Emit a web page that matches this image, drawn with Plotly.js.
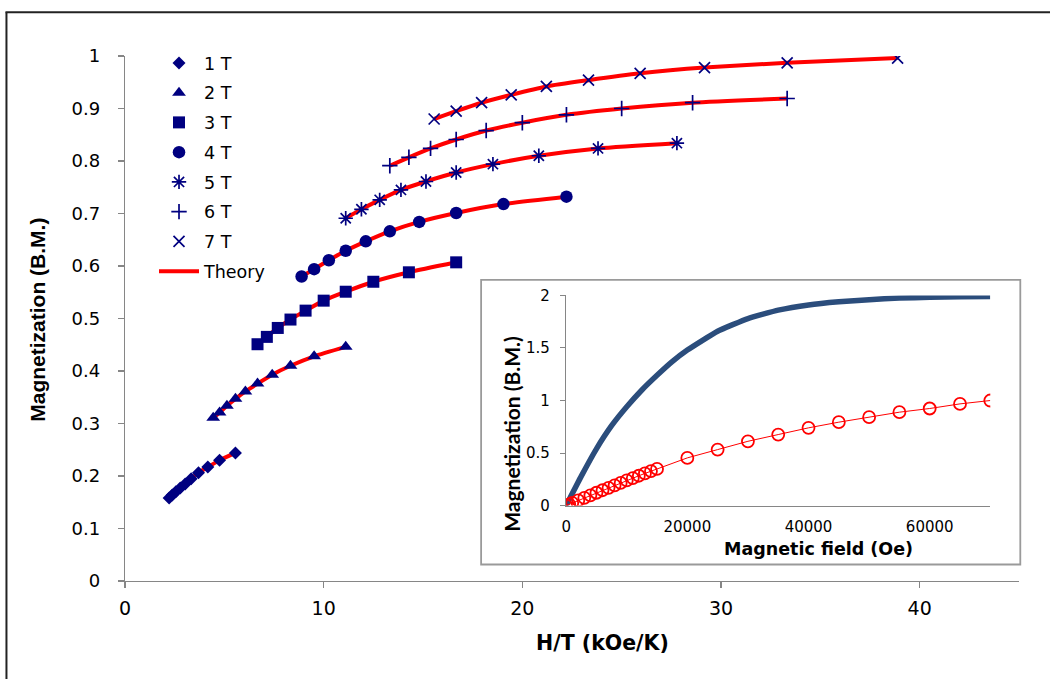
<!DOCTYPE html>
<html>
<head>
<meta charset="utf-8">
<script src="https://cdn.plot.ly/plotly-3.0.1.min.js"></script>
<style>
  html, body { margin: 0; padding: 0; background: #ffffff; }
  #chart { width: 1050px; height: 679px; }
</style>
</head>
<body>
<div id="chart"></div>
<script>
// Reduced magnetization M vs H/T, measured at fixed fields 1–7 T
const fieldLabels = ['1 T', '2 T', '3 T', '4 T', '5 T', '6 T', '7 T'];

const hT1 = [2.22, 2.38, 2.56, 2.78, 3.03, 3.33, 3.70, 4.17, 4.76, 5.56];
const m1  = [0.158, 0.164, 0.170, 0.177, 0.185, 0.195, 0.206, 0.217, 0.230, 0.244];

const hT2 = [4.44, 4.76, 5.13, 5.56, 6.06, 6.67, 7.41, 8.33, 9.52, 11.11];
const m2  = [0.311, 0.321, 0.334, 0.347, 0.361, 0.376, 0.393, 0.410, 0.428, 0.446];

const hT3 = [6.67, 7.14, 7.69, 8.33, 9.09, 10.0, 11.11, 12.5, 14.29, 16.67];
const m3  = [0.451, 0.465, 0.482, 0.498, 0.515, 0.534, 0.551, 0.570, 0.588, 0.607];

const hT4 = [8.89, 9.52, 10.26, 11.11, 12.12, 13.33, 14.81, 16.67, 19.05, 22.22];
const m4  = [0.580, 0.594, 0.611, 0.629, 0.647, 0.666, 0.684, 0.701, 0.718, 0.732];

const hT5 = [11.11, 11.90, 12.82, 13.89, 15.15, 16.67, 18.52, 20.83, 23.81, 27.78];
const m5  = [0.691, 0.708, 0.726, 0.745, 0.761, 0.778, 0.794, 0.810, 0.824, 0.834];

const hT6 = [13.33, 14.29, 15.38, 16.67, 18.18, 20.0, 22.22, 25.0, 28.57, 33.33];
const m6  = [0.791, 0.807, 0.824, 0.841, 0.858, 0.873, 0.888, 0.900, 0.911, 0.919];

const hT7 = [15.56, 16.67, 17.95, 19.44, 21.21, 23.33, 25.93, 29.17, 33.33, 38.89];
const m7  = [0.880, 0.895, 0.911, 0.926, 0.942, 0.954, 0.967, 0.978, 0.987, 0.996];

// Inset: M vs applied field (Oe)
const insetFieldCurve = [0, 2500, 5000, 7500, 10000, 12500, 15000, 17500, 20000, 25000,
                         30000, 35000, 40000, 45000, 50000, 55000, 60000, 65000, 70000];
const insetMCurve     = [0, 0.28, 0.54, 0.76, 0.94, 1.10, 1.24, 1.37, 1.48, 1.66,
                         1.78, 1.86, 1.91, 1.94, 1.96, 1.975, 1.983, 1.988, 1.99];

const insetFieldPts = [0, 500, 1000, 2000, 3000, 4000, 5000, 6000, 7000, 8000, 9000, 10000,
                       11000, 12000, 13000, 14000, 15000, 20000, 25000, 30000, 35000, 40000,
                       45000, 50000, 55000, 60000, 65000, 70000];
const insetMPts     = [0, 0.012, 0.025, 0.049, 0.074, 0.098, 0.122, 0.146, 0.169, 0.193, 0.216, 0.239,
                       0.262, 0.284, 0.306, 0.328, 0.349, 0.454, 0.533, 0.612, 0.676, 0.740,
                       0.794, 0.841, 0.889, 0.924, 0.968, 1.000];

// ---- layout geometry (pixels) ----
const W = 1050, H = 679;
const L = 125, R = 1018.7, T = 56, B = 581.5;
const px = x => (x - L) / (R - L);   // pixel x -> paper x
const py = y => (B - y) / (B - T);   // pixel y -> paper y

const WIDE = 'DejaVu Sans, Verdana, sans-serif';
const ARIAL = 'Liberation Sans, Arial, sans-serif';

const navy = '#000080';
const seriesX = [hT1, hT2, hT3, hT4, hT5, hT6, hT7];
const seriesY = [m1, m2, m3, m4, m5, m6, m7];
const symbols = ['diamond', 'triangle-up', 'square', 'circle',
                 'asterisk-open', 'cross-thin-open', 'x-thin-open'];
const sizes = [10, 12, 12, 12.5, 12, 11, 11];

// Theory curves: one red trace, series separated by gaps
const thX = [], thY = [];
seriesX.forEach((xs, i) => {
  thX.push(...xs, null);
  thY.push(...seriesY[i], null);
});

const traces = [{
  x: thX, y: thY, type: 'scatter', mode: 'lines', name: 'Theory',
  line: { color: '#ff0000', width: 4, shape: 'spline', smoothing: 0.6 },
  connectgaps: false, legendrank: 2000, legendgroup: 'th',
  xaxis: 'x', yaxis: 'y', hoverinfo: 'skip'
}];

seriesX.forEach((xs, i) => {
  const open = symbols[i].endsWith('open');
  traces.push({
    x: xs, y: seriesY[i], type: 'scatter', mode: 'markers', name: fieldLabels[i],
    legendgroup: 'g' + i, legendrank: 1000 + i,
    marker: {
      symbol: symbols[i], size: sizes[i], color: navy,
      line: { color: navy, width: open ? 1.7 : 0 }
    },
    xaxis: 'x', yaxis: 'y'
  });
});

// Inset traces
traces.push({
  x: insetFieldCurve, y: insetMCurve, type: 'scatter', mode: 'lines',
  line: { color: '#2b4d7c', width: 5.5, shape: 'spline', smoothing: 0.4 },
  showlegend: false, xaxis: 'x2', yaxis: 'y2'
});
traces.push({
  x: insetFieldPts, y: insetMPts, type: 'scatter', mode: 'lines+markers',
  line: { color: '#ff0000', width: 1 },
  marker: { symbol: 'circle-open', size: 12, color: '#ff0000', line: { color: '#ff0000', width: 1.8 } },
  showlegend: false, xaxis: 'x2', yaxis: 'y2'
});

const axisCommon = {
  showgrid: false, zeroline: false, showline: true,
  linecolor: '#868686', linewidth: 1.3, tickcolor: '#868686',
  ticks: 'outside', ticklen: 6, tickwidth: 1.3
};

const layout = {
  width: W, height: H,
  margin: { l: L, r: W - R, t: T, b: H - B, pad: 0 },
  paper_bgcolor: '#ffffff', plot_bgcolor: 'rgba(0,0,0,0)',
  showlegend: true,
  font: { family: WIDE, color: '#000' },
  xaxis: Object.assign({}, axisCommon, {
    range: [0, 45], tickvals: [0, 10, 20, 30, 40],
    tickfont: { family: WIDE, size: 19, color: '#000' },
    ticklabelstandoff: 4, domain: [0, 1], anchor: 'y'
  }),
  yaxis: Object.assign({}, axisCommon, {
    range: [0, 1], dtick: 0.1, tick0: 0,
    tickfont: { family: WIDE, size: 18, color: '#000' },
    ticklabelstandoff: 14, domain: [0, 1], anchor: 'x'
  }),
  xaxis2: {
    domain: [px(566), px(990)], anchor: 'y2', range: [0, 70000],
    tickvals: [0, 20000, 40000, 60000], tickformat: 'd',
    showgrid: false, zeroline: false, showline: true,
    linecolor: '#868686', linewidth: 1.3, ticks: '',
    tickfont: { family: WIDE, size: 15, color: '#000' },
    ticklabelstandoff: 7
  },
  yaxis2: {
    domain: [py(506), py(295.7)], anchor: 'x2', range: [0, 2],
    tickvals: [0, 0.5, 1, 1.5, 2],
    showgrid: false, zeroline: false, showline: true,
    linecolor: '#868686', linewidth: 1.3, ticks: 'outside', ticklen: 5, tickcolor: '#868686',
    tickfont: { family: WIDE, size: 15, color: '#000' },
    ticklabelstandoff: 7
  },
  legend: {
    x: px(154), y: py(45), xanchor: 'left', yanchor: 'top',
    bgcolor: 'rgba(0,0,0,0)', borderwidth: 0, itemwidth: 40,
    traceorder: 'grouped', tracegroupgap: 4,
    font: { family: WIDE, size: 17.5, color: '#000' }
  },
  shapes: [
    // inset frame
    { type: 'rect', xref: 'paper', yref: 'paper', layer: 'below',
      x0: px(481), x1: px(1020), y0: py(565), y1: py(280),
      line: { color: '#9a9a9a', width: 1.8 }, fillcolor: '#ffffff' },
    // outer figure border (left and top)
    { type: 'line', xref: 'paper', yref: 'paper',
      x0: px(6.5), x1: px(6.5), y0: py(700), y1: py(12.3),
      line: { color: '#222', width: 2 } },
    { type: 'line', xref: 'paper', yref: 'paper',
      x0: px(5.5), x1: px(1060), y0: py(12.3), y1: py(12.3),
      line: { color: '#222', width: 2 } }
  ],
  annotations: [
    { text: 'H/T (kOe/K)', xref: 'paper', yref: 'paper', x: px(602), y: py(644),
      xanchor: 'center', yanchor: 'middle', showarrow: false,
      font: { family: WIDE, size: 20.5, color: '#000', weight: 'bold' } },
    { text: 'Magnetization (B.M.)', xref: 'paper', yref: 'paper', x: px(38), y: py(320),
      xanchor: 'center', yanchor: 'middle', textangle: -90, showarrow: false,
      font: { family: ARIAL, size: 21, color: '#000', weight: 'bold' } },
    { text: 'Magnetic field (Oe)', xref: 'paper', yref: 'paper', x: px(818), y: py(549),
      xanchor: 'center', yanchor: 'middle', showarrow: false,
      font: { family: WIDE, size: 17.5, color: '#000', weight: 'bold' } },
    { text: 'Magnetization (B.M.)', xref: 'paper', yref: 'paper', x: px(512), y: py(434),
      xanchor: 'center', yanchor: 'middle', textangle: -90, showarrow: false,
      font: { family: 'Lato, sans-serif', size: 21, color: '#000', weight: 'bold' } }
  ]
};

Plotly.newPlot('chart', traces, layout, { staticPlot: true, displayModeBar: false });
</script>
</body>
</html>
